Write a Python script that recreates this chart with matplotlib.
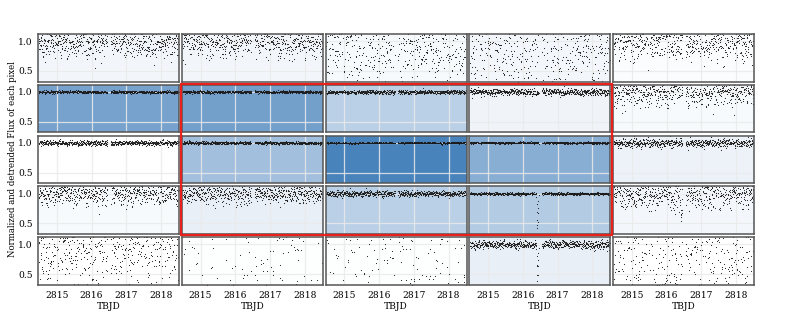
"""
Pixel-by-pixel light curves around the target (5x5 grid) with the aperture marked in red.
"""
import numpy as np
import matplotlib
matplotlib.use("Agg")
import matplotlib.pyplot as plt
from matplotlib.colors import LinearSegmentedColormap
from matplotlib.patches import Rectangle

# observing window (TBJD) and cadence
t_start, t_end, n_cad = 2814.48, 2818.50, 620
gap_start, gap_end = 2816.46, 2816.55
xticks = [2815, 2816, 2817, 2818]
yticks = [0.5, 1.0]

# relative brightness of each pixel (background colour), rows top -> bottom
pixel_level = [
    [0.07, 0.07, 0.04, 0.06, 0.02],
    [0.69, 0.71, 0.35, 0.08, 0.04],
    [0.00, 0.47, 0.92, 0.60, 0.10],
    [0.04, 0.12, 0.35, 0.39, 0.06],
    [0.00, 0.01, 0.01, 0.12, 0.00],
]

# point-to-point scatter of the normalised flux in each pixel
pixel_scatter = [
    [0.14, 0.14, 0.35, 0.45, 0.16],
    [0.012, 0.011, 0.017, 0.030, 0.12],
    [0.022, 0.013, 0.006, 0.009, 0.035],
    [0.10, 0.08, 0.025, 0.012, 0.12],
    [0.35, 3.0, 2.5, 0.035, 0.7],
]

# eclipse depth seen in each pixel at the main event
pixel_dip = [
    [0.0, 0.0, 0.0, 0.0, 0.0],
    [0.0, 0.0, 0.0, 0.0, 0.0],
    [0.0, 0.0, 0.0, 0.0, 0.0],
    [0.0, 0.0, 0.0, 0.62, 0.45],
    [0.0, 0.0, 0.0, 0.62, 0.0],
]
dip_center = 2816.42
dip_offsets = [-0.035, -0.015, 0.0, 0.015, 0.035]
dip_profile = [0.0, 0.55, 1.0, 0.55, 0.0]

# small dips in the brightest pixel
small_dip_times = [2815.22, 2817.80]
small_dip_depth = 0.03

aperture_rows = (1, 3)
aperture_cols = (1, 3)

cmap = LinearSegmentedColormap.from_list("pix", ["#ffffff", "#3a78b6"])

plt.rcParams["font.family"] = "DejaVu Serif"
plt.rcParams["font.size"] = 6.6

fig, axes = plt.subplots(5, 5, figsize=(7.93, 3.17), dpi=100, sharex=True, sharey=True)
fig.subplots_adjust(left=0.048, right=0.951, top=0.893, bottom=0.101,
                    wspace=0.018, hspace=0.065)

t = np.linspace(t_start, t_end, n_cad)
t = t[(t < gap_start) | (t > gap_end)]
rng = np.random.default_rng(7)

for i in range(5):
    for j in range(5):
        ax = axes[i, j]
        ax.set_facecolor(cmap(pixel_level[i][j]))
        f = 1.0 + rng.normal(0, pixel_scatter[i][j], t.size)
        if pixel_dip[i][j] > 0:
            f -= pixel_dip[i][j] * np.interp(t - dip_center, dip_offsets, dip_profile)
        if i == 2 and j == 2:
            for td in small_dip_times:
                f -= small_dip_depth * np.interp(t - td, [-0.03, 0, 0.03], [0, 1, 0])
        ax.plot(t, f, ".", ms=1.6, mew=0, color="#1a1a1a")
        ax.set_xlim(2814.46, 2818.52)
        ax.set_ylim(0.32, 1.12)
        ax.set_xticks(xticks)
        ax.set_yticks(yticks)
        ax.grid(True, color="#eaeaea", lw=0.9, alpha=0.85)
        ax.set_axisbelow(True)
        ax.tick_params(length=0, pad=4)
        for s in ax.spines.values():
            s.set_color("#555555")
            s.set_linewidth(1.1)
        if i == 4:
            ax.set_xlabel("TBJD", labelpad=2)

fig.text(0.016, 0.497, "Normalized and detrended Flux of each pixel",
         rotation=90, ha="center", va="center", fontsize=6.2)

# aperture outline
fig.canvas.draw()
b0 = axes[aperture_rows[0], aperture_cols[0]].get_position()
b1 = axes[aperture_rows[1], aperture_cols[1]].get_position()
px, py = 1.2 / 793, 1.2 / 317
fig.add_artist(Rectangle((b0.x0 - px, b1.y0 - py), b1.x1 - b0.x0 + 2 * px,
                         b0.y1 - b1.y0 + 2 * py, transform=fig.transFigure,
                         fill=False, edgecolor="#e8211c", lw=1.6, zorder=10))

fig.savefig("out.png", dpi=100)
